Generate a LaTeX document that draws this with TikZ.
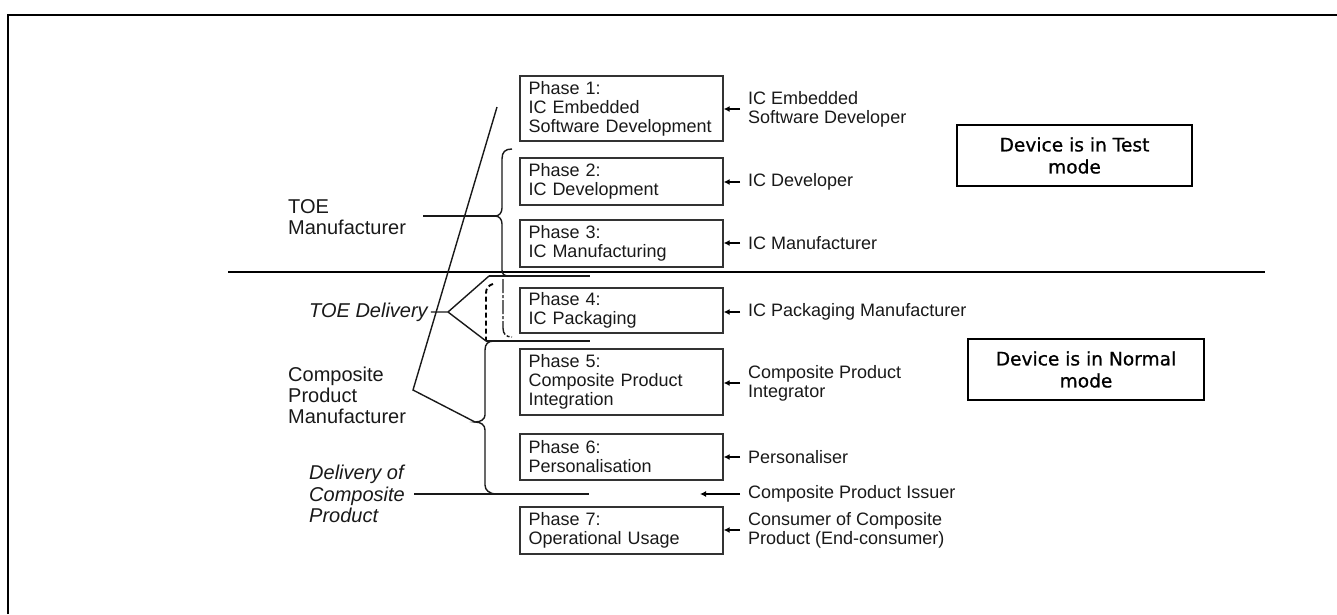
\documentclass[tikz,border=0pt]{standalone}
\usepackage{fontspec}
\setmainfont{Liberation Sans}
\newfontfamily\modefont[FakeBold=0.8]{DejaVu Sans}
\usetikzlibrary{arrows.meta}
\begin{document}
\begin{tikzpicture}[x=1pt,y=-1pt,
  ln/.style={line width=1.4pt, draw=black!90},
  phase/.style={draw=black!80, line width=1.3pt, text width=186pt, inner xsep=8.5pt, inner ysep=0pt, align=left, minimum width=203pt, font=\fontsize{18}{19}\selectfont, text=black!90},
  lbl/.style={anchor=west, inner sep=0pt, align=left, font=\fontsize{18}{19}\selectfont, text=black!90},
  side/.style={anchor=west, inner sep=0pt, align=left, font=\fontsize{20}{21}\selectfont, text=black!90},
  sideit/.style={side, font=\fontsize{20}{21.5}\selectfont\itshape},
  modebox/.style={draw=black, line width=1.8pt, minimum width=235pt, minimum height=61pt, align=center, inner sep=0pt, font=\modefont\fontsize{18.6}{22}\selectfont},
  arr/.style={line width=1.4pt, -{Latex[length=6pt,width=6pt]}}
]
\useasboundingbox (0,0) rectangle (1337,614);
% frame
\draw[line width=2.5pt] (8,614) -- (8,15) -- (1337,15);
% divider
\draw[line width=1.4pt] (228,272) -- (1265,272);

% phase boxes
\node[phase, minimum height=65pt] (P1) at (621.5,108.5) {Phase 1:\\IC Embedded\\Software Development};
\node[phase, minimum height=47pt] (P2) at (621.5,181.5) {Phase 2:\\IC Development};
\node[phase, minimum height=47pt] (P3) at (621.5,243.5) {Phase 3:\\IC Manufacturing};
\node[phase, minimum height=45pt] (P4) at (621.5,310.5) {Phase 4:\\IC Packaging};
\node[phase, minimum height=66pt] (P5) at (621.5,382) {Phase 5:\\Composite Product\\Integration};
\node[phase, minimum height=46pt] (P6) at (621.5,457) {Phase 6:\\Personalisation};
\node[phase, minimum height=47pt] (P7) at (621.5,530.5) {Phase 7:\\Operational Usage};

% right labels
\node[lbl] (L1) at (748,109) {IC Embedded\\Software Developer};
\node[lbl] (L2) at (748,182) {IC Developer};
\node[lbl] (L3) at (748,243) {IC Manufacturer};
\node[lbl] (L4) at (748,312) {IC Packaging Manufacturer};
\node[lbl] (L5) at (748,383) {Composite Product\\Integrator};
\node[lbl] (L6) at (748,457) {Personaliser};
\node[lbl] (Li) at (748,494) {Composite Product Issuer};
\node[lbl] (L7) at (748,530) {Consumer of Composite\\Product (End-consumer)};
\coordinate (iss) at (700,494);

\foreach \l/\p in {L1/P1,L2/P2,L3/P3,L4/P4,L5/P5,L6/P6,L7/P7}
  \draw[arr] ([xshift=-8pt]\l.west) -- (\l.west -| \p.east);
\draw[arr] ([xshift=-8pt]Li.west) -- (iss);

% mode boxes
\node[modebox] (TM) at (1074.5,155.5) {Device is in Test\\mode};
\node[modebox, minimum width=236pt] (NM) at (1086,369.5) {Device is in Normal\\mode};

% left labels
\node[side] (TOE) at (288,217) {TOE\\Manufacturer};
\node[side] (CPM) at (288,395) {Composite\\Product\\Manufacturer};
\node[sideit] (TD) at (309,312) {TOE Delivery};
\node[sideit] (DCP) at (309,494) {Delivery of\\Composite\\Product};

% coordinates
\coordinate (diagTop) at (497,107);
\coordinate (diagBot) at (413,390);
\coordinate (b1tip) at (495,216);
\coordinate (b2tip) at (475,422);
\coordinate (toeStart) at (423,216);
\coordinate (fork) at (448,312);
\coordinate (upJ) at (489,276);
\coordinate (loJ) at (486,341);
\coordinate (topEnd) at (590,276);
\coordinate (lowEnd) at (590,341);
\coordinate (delEnd) at (589,494);

% long diagonal and composite manufacturer line
\draw[ln] (diagTop) -- (diagBot) -- (b2tip);
% TOE manufacturer line
\draw[ln] (toeStart) -- (b1tip);
% brace phases 2-3
\draw[ln] (512,149) .. controls (505,149) and (502,152) .. (502,159) -- (502,208)
  .. controls (502,213) and (499,216) .. (b1tip)
  .. controls (499,216) and (502,219) .. (502,224) -- (502,270)
  .. controls (502,274) and (504,276) .. (509,276);
% dash-dot continuation
\draw[ln, dash pattern=on 14pt off 2pt on 3pt off 2pt] (503,279) -- (503,328) .. controls (503,334) and (506,337) .. (512,337);
% dashed bracket
\draw[line width=1.9pt, dash pattern=on 5pt off 3pt] (493,284) .. controls (489,285) and (486,288) .. (486,293) -- (486,340);
% top and low horizontal lines of TOE delivery
\draw[ln] (upJ) -- (topEnd);
\draw[ln] (loJ) -- (lowEnd);
% TOE delivery fork
\draw[ln] ([xshift=3pt]TD.east) -- (fork) -- (upJ);
\draw[ln] (fork) -- (loJ);
% brace phases 5-6
\draw[ln] (494,341) .. controls (488,341) and (485,344) .. (485,350) -- (485,415)
  .. controls (485,419) and (481,422) .. (b2tip)
  .. controls (481,422) and (485,425) .. (485,430) -- (485,485)
  .. controls (485,490) and (489,494) .. (497,494);
% delivery of composite product line
\draw[ln] ([xshift=9pt]DCP.east) -- (delEnd);
\end{tikzpicture}
\end{document}
